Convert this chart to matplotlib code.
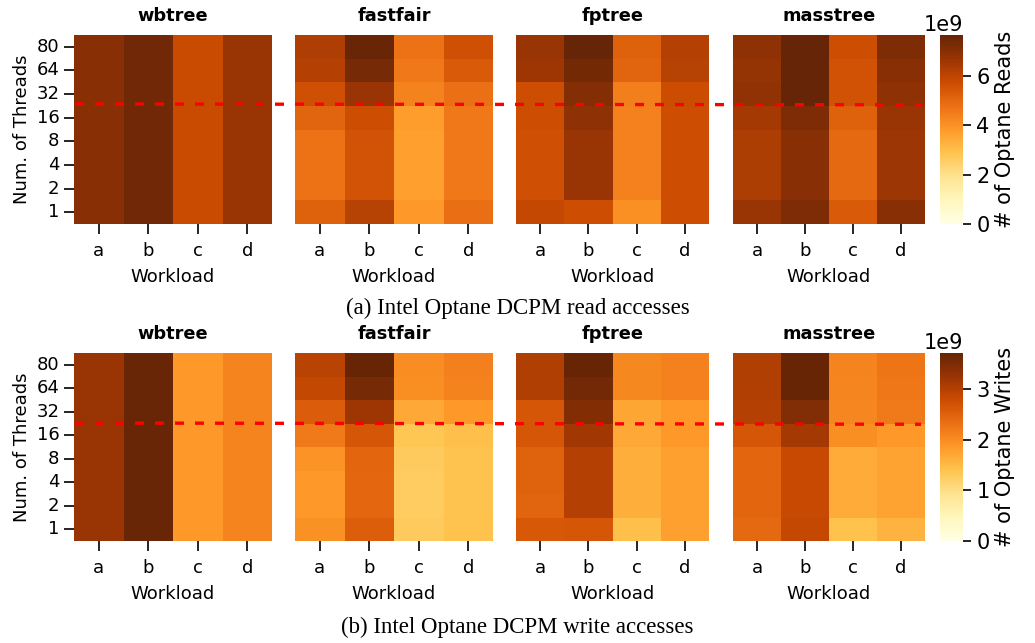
import numpy as np
import matplotlib
matplotlib.use("Agg")
import matplotlib.pyplot as plt
from matplotlib.lines import Line2D
import seaborn as sns

plt.rcParams["font.family"] = ["DejaVu Sans"]

trees = ["wbtree", "fastfair", "fptree", "masstree"]
workloads = ["a", "b", "c", "d"]
threads = ["80", "64", "32", "16", "8", "4", "2", "1"]

# values in 1e9, rows = threads (80 ... 1), cols = workloads a..d
reads_wbtree = [[7.0, 7.45, 5.8, 6.7]] * 8
reads_fastfair = [
    [6.30, 7.60, 4.75, 5.65],
    [6.20, 7.35, 4.60, 5.35],
    [5.65, 6.70, 4.35, 4.80],
    [5.10, 5.70, 3.75, 4.60],
    [4.75, 5.55, 3.70, 4.60],
    [4.75, 5.55, 3.70, 4.60],
    [4.75, 5.55, 3.70, 4.60],
    [5.20, 6.15, 3.85, 4.85],
]
reads_fptree = [
    [6.70, 7.65, 5.20, 6.20],
    [6.60, 7.40, 5.10, 6.15],
    [5.70, 7.10, 4.45, 5.75],
    [5.70, 6.90, 4.40, 5.70],
    [5.65, 6.70, 4.40, 5.70],
    [5.65, 6.70, 4.40, 5.70],
    [5.65, 6.70, 4.40, 5.70],
    [5.90, 5.70, 4.05, 5.70],
]
reads_masstree = [
    [6.90, 7.65, 5.70, 7.20],
    [6.80, 7.65, 5.60, 7.00],
    [6.85, 7.67, 5.60, 6.90],
    [6.50, 7.20, 5.20, 6.70],
    [6.35, 7.00, 5.00, 6.65],
    [6.35, 7.00, 5.00, 6.65],
    [6.35, 7.00, 5.00, 6.65],
    [6.70, 7.20, 5.35, 7.00],
]

writes_wbtree = [[3.25, 3.68, 1.86, 2.10]] * 8
writes_fastfair = [
    [2.95, 3.70, 2.00, 2.15],
    [2.87, 3.57, 1.98, 2.12],
    [2.57, 3.20, 1.70, 1.87],
    [2.22, 2.65, 1.38, 1.45],
    [1.93, 2.45, 1.30, 1.40],
    [1.86, 2.43, 1.27, 1.40],
    [1.86, 2.43, 1.27, 1.40],
    [1.95, 2.55, 1.30, 1.42],
]
writes_fptree = [
    [3.05, 3.70, 2.05, 2.13],
    [3.05, 3.60, 2.05, 2.13],
    [2.65, 3.45, 1.72, 1.87],
    [2.65, 3.17, 1.70, 1.86],
    [2.50, 3.00, 1.63, 1.78],
    [2.50, 3.00, 1.63, 1.78],
    [2.48, 3.00, 1.63, 1.78],
    [2.63, 2.65, 1.45, 1.78],
]
writes_masstree = [
    [3.05, 3.70, 2.10, 2.27],
    [3.03, 3.70, 2.08, 2.25],
    [3.00, 3.47, 2.07, 2.22],
    [2.65, 3.15, 1.98, 1.86],
    [2.45, 2.83, 1.67, 1.77],
    [2.45, 2.83, 1.67, 1.77],
    [2.45, 2.83, 1.67, 1.77],
    [2.42, 2.85, 1.42, 1.58],
]

reads = [reads_wbtree, reads_fastfair, reads_fptree, reads_masstree]
writes = [writes_wbtree, writes_fastfair, writes_fptree, writes_masstree]

W, H = 1035, 643
fig = plt.figure(figsize=(W / 100, H / 100), dpi=100)


def fx(px):
    return px / W


def fy(py):
    return 1 - py / H


lefts = [74, 295, 516, 733]
widths = [198, 198, 193, 192]

rows = [
    (reads, 7.67, 35, 224, "# of Optane Reads", "(a) Intel Optane DCPM read accesses", 308, 104, 104.8),
    (writes, 3.72, 353, 541, "# of Optane Writes", "(b) Intel Optane DCPM write accesses", 627, 423, 424.3),
]

for data, vmax, top, bot, cbl, cap, capy, ly0, ly1 in rows:
    cax = fig.add_axes([fx(940), fy(bot), fx(23), (bot - top) / H])
    for i, tree in enumerate(trees):
        ax = fig.add_axes([fx(lefts[i]), fy(bot), fx(widths[i]), (bot - top) / H])
        vals = np.array(data[i]) * 1e9
        sns.heatmap(vals, ax=ax, cmap="YlOrBr", vmin=0, vmax=vmax * 1e9,
                    cbar=(i == 3), cbar_ax=cax if i == 3 else None,
                    xticklabels=workloads, yticklabels=threads)
        ax.set_title(tree, fontsize=12.8, fontweight="bold", pad=10)
        ax.set_xlabel("Workload", fontsize=13, labelpad=6)
        ax.tick_params(axis="x", length=7, width=1.2, labelsize=13, pad=6, rotation=0)
        if i == 0:
            ax.set_ylabel("Num. of Threads", fontsize=13)
            ax.tick_params(axis="y", length=7, width=1.2, labelsize=13, rotation=0)
        else:
            ax.set_yticks([])
    cax.tick_params(labelsize=15, length=6, width=1.2)
    cax.yaxis.get_offset_text().set_fontsize(15)
    cax.set_ylabel(cbl, fontsize=15)
    fig.text(0.5, fy(capy), cap, ha="center", va="center", fontsize=16.5,
             family="Liberation Serif")
    fig.add_artist(Line2D([fx(75), fx(921)], [fy(ly0), fy(ly1)],
                          transform=fig.transFigure, color="red", lw=2.4,
                          linestyle=(0, (2.7, 3.3))))

fig.savefig("out.png", dpi=100)
